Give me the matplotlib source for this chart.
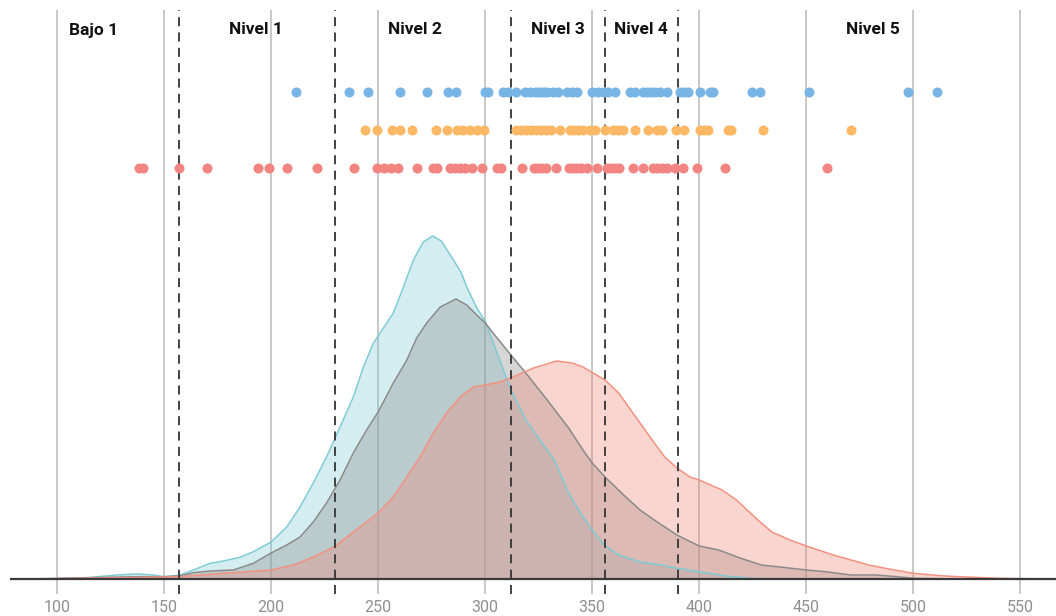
import matplotlib
matplotlib.use("Agg")
import matplotlib.pyplot as plt

plt.rcParams['font.family'] = ['Roboto', 'DejaVu Sans']

# ---- data ----
ticks = [100, 150, 200, 250, 300, 350, 400, 450, 500, 550]
cutoffs = [157, 230, 312, 356, 390]
level_names = ["Bajo 1", "Nivel 1", "Nivel 2", "Nivel 3", "Nivel 4", "Nivel 5"]
level_label_x = [117, 193, 267, 334, 373, 481]

blue_scores = [211.7, 236.4, 245.1, 260.2, 272.9, 282.7, 286.4, 299.9, 301.4, 308.4,
               310.7, 314.4, 318.6, 321.0, 323.3, 324.7, 326.1, 327.5, 328.9, 331.7,
               334.1, 338.3, 340.6, 342.9, 349.9, 352.7, 355.5, 357.4, 360.7, 367.7,
               370.0, 373.8, 375.6, 377.5, 379.4, 381.7, 385.0, 391.1, 392.9, 394.8,
               400.4, 405.1, 406.5, 424.7, 428.4, 451.3, 497.6, 511.1]
orange_scores = [243.9, 249.5, 256.5, 260.2, 265.8, 277.1, 282.2, 286.9, 289.7, 292.9,
                 296.2, 299.5, 314.4, 316.8, 319.1, 321.4, 323.8, 326.1, 328.5, 330.8,
                 335.0, 339.7, 341.5, 343.4, 345.7, 349.0, 351.3, 356.0, 359.8, 362.1,
                 364.4, 370.0, 376.1, 380.3, 382.6, 389.2, 392.9, 400.4, 402.3, 404.1,
                 413.5, 414.9, 429.8, 470.9]
red_scores = [138.5, 140.2, 156.8, 170.1, 193.9, 199.0, 207.5, 221.5, 238.8, 249.5,
              252.8, 256.0, 259.3, 268.2, 275.7, 277.5, 283.6, 285.9, 288.3, 290.6,
              293.9, 298.6, 305.6, 307.4, 317.2, 322.8, 324.7, 326.6, 328.5, 333.1,
              339.2, 341.1, 342.9, 344.8, 347.6, 352.3, 356.9, 358.8, 360.7, 362.6,
              369.1, 373.8, 378.4, 380.3, 382.6, 385.0, 388.7, 392.5, 399.0, 412.1,
              459.7]

cyan_x = [85, 100, 115, 128, 137, 145, 150, 157, 163.7, 171.5, 176.1, 185.5, 191.7,
          200, 207.3, 213.5, 219.7, 225.9, 232.2, 238.4, 243.1, 247.8, 254, 257.1,
          261.8, 266.5, 271.1, 275.5, 279.5, 285.2, 288.9, 291.4, 296.1, 300, 305.6,
          312, 319, 325.6, 332.3, 339, 345.7, 350, 355.7, 362.4, 372.4, 382.4, 389.6,
          400, 412.5, 424, 440]
cyan_y = [0, 0.3, 1.5, 4, 5, 4, 2.3, 3.7, 9, 15.7, 17.3, 21.7, 27.3,
          37, 52, 72, 96, 122, 152, 182, 212, 236, 256, 266,
          292, 319, 337, 343, 338, 319, 306, 292, 271, 258, 226,
          189, 159, 139, 119, 86, 62, 49, 34, 24, 17, 14, 10.7,
          7.3, 3, 0.7, 0]

gray_x = [85, 100, 120, 137, 150, 157, 163.7, 171.5, 182.4, 191.7, 200, 207.3, 213.5,
          219.7, 225.9, 232.2, 238.4, 244.6, 250, 257.1, 263.4, 268, 272.7, 279,
          286.4, 291.4, 296.1, 300, 305.6, 312, 319, 329, 339, 345.7, 350, 356,
          365.7, 372.4, 379, 389.6, 400, 409.1, 419.1, 429, 439, 450, 459, 470.8,
          482.5, 492.5, 500, 520]
gray_y = [0, 0.5, 1.5, 2.3, 2.3, 3, 6.3, 8, 9, 15.7, 26, 34, 42,
          57, 76, 99, 126, 149, 167, 196, 219, 241, 256, 272,
          280, 274, 264, 256, 241, 224, 206, 179, 151, 129, 116, 102,
          82, 69, 59, 44, 33, 29, 21, 14, 11.7, 9, 7.3, 4,
          4, 2.3, 0.7, 0]

salmon_x = [85, 100, 137, 157, 171.5, 200, 210.4, 219.7, 229.4, 238.4, 244.6, 250,
            257.1, 263.4, 269.6, 275.8, 282, 288.3, 294.5, 300, 307, 312, 322.6,
            333.4, 340.7, 345.7, 356, 362.4, 367, 373.7, 379, 383.9, 389.6, 395.7,
            400, 410.7, 417.4, 422.4, 429, 434, 442.4, 450, 462.6, 479.3, 489.3,
            500, 512.7, 521, 540.6, 560]
salmon_y = [0, 0.5, 1.5, 2.3, 4.7, 9, 14, 22, 32, 47, 57, 66,
            82, 102, 122, 146, 166, 182, 192, 194, 197, 201, 211,
            218, 216, 212, 199, 186, 172, 152, 136, 122, 111, 102,
            99, 89, 79, 69, 56, 47, 39, 33, 24, 14, 9.7,
            5.7, 3.3, 2.3, 0.7, 0]

# ---- figure ----
W, H = 1056, 616
fig = plt.figure(figsize=(W / 100, H / 100), dpi=100)
ax = fig.add_axes([10 / W, (H - 594) / H, 1046 / W, (594 - 10) / H])
ax.set_xlim(78.0, 566.7)
ax.set_ylim(-15, 569)

for t in ticks:
    ax.axvline(t, color='#c4c4c4', lw=1.3, zorder=1)

# densities
ax.fill_between(cyan_x, cyan_y, color='#81ccd4', alpha=0.35, lw=0, zorder=2)
ax.plot(cyan_x, cyan_y, color='#7ecbd6', lw=1.1, zorder=3)
ax.fill_between(gray_x, gray_y, color='#8c8c8c', alpha=0.35, lw=0, zorder=2)
ax.plot(gray_x, gray_y, color='#8a8a8a', lw=1.1, zorder=3)
ax.fill_between(salmon_x, salmon_y, color='#ee8779', alpha=0.35, lw=0, zorder=2)
ax.plot(salmon_x, salmon_y, color='#f4907f', lw=1.1, zorder=3)

for c in cutoffs:
    ax.axvline(c, color='#333333', lw=1.3, ls=(0, (5, 3.5)), zorder=4)

ax.axhline(0, color='#3a3a3a', lw=1.6, zorder=5)

# dots
ax.scatter(blue_scores, [487] * len(blue_scores), s=52, color='#78b4e4', lw=0, zorder=6)
ax.scatter(orange_scores, [449] * len(orange_scores), s=52, color='#fdb866', lw=0, zorder=6)
ax.scatter(red_scores, [411] * len(red_scores), s=52, color='#f28482', lw=0, zorder=6)

for name, x in zip(level_names, level_label_x):
    ax.text(x, 549, name, ha='center', va='center', fontsize=12.5,
            fontweight='bold', color='#111111', zorder=7)

ax.set_xticks(ticks)
ax.set_xticklabels([str(t) for t in ticks])
ax.tick_params(axis='x', length=0, pad=4, labelsize=11.5, labelcolor='#8f8f8f')
ax.set_yticks([])
for s in ax.spines.values():
    s.set_visible(False)

fig.savefig('out.png', dpi=100)
